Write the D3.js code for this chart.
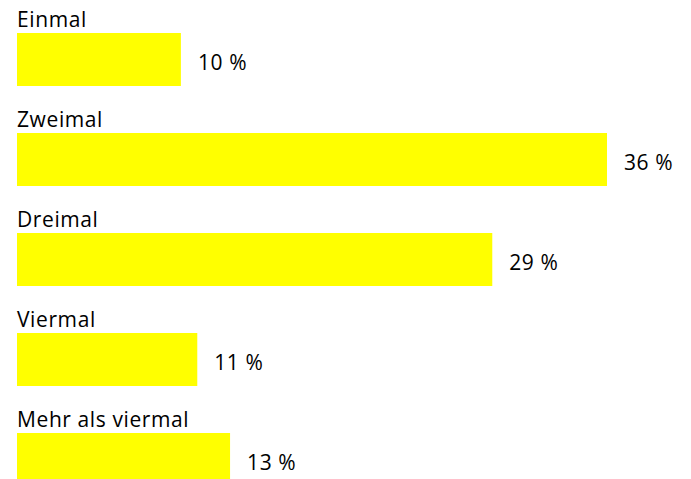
<!DOCTYPE html>
<html>
<head>
<meta charset="utf-8">
<script src="https://cdn.jsdelivr.net/npm/d3@7"></script>
<style>
  body { margin: 0; background: #fff; }
  text { font-family: "Open Sans", sans-serif; fill: #000; font-size: 21px; letter-spacing: 0.6px; }
</style>
</head>
<body>
<div id="chart"></div>
<script>
var width = 691,
    height = 479;

var categories = ['Einmal', 'Zweimal', 'Dreimal', 'Viermal', 'Mehr als viermal'];
var values = [10, 36, 29, 11, 13];

var svg = d3.select('#chart').append('svg')
    .attr('width', width)
    .attr('height', height);

var x = d3.scaleLinear().domain([0, 36]).range([17, 607]);
var y = d3.scaleBand().domain(categories).range([33, 486])
    .paddingInner(0.47).paddingOuter(0);

var rows = svg.selectAll('g.row')
    .data(categories)
    .enter().append('g')
    .attr('class', 'row');

rows.append('rect')
    .attr('x', x(0))
    .attr('y', function(d){ return y(d); })
    .attr('width', function(d, i){ return x(values[i]) - x(0); })
    .attr('height', y.bandwidth())
    .style('fill', '#ffff00');

// category names sit above each bar
rows.append('text')
    .attr('x', x(0))
    .attr('y', function(d){ return y(d) - 6; })
    .text(function(d){ return d; });

// value labels right of the bar
rows.append('text')
    .attr('x', function(d, i){ return x(values[i]) + 17; })
    .attr('y', function(d){ return y(d) + y.bandwidth() / 2 + 10.5; })
    .text(function(d, i){ return values[i] + ' %'; });
</script>
</body>
</html>
